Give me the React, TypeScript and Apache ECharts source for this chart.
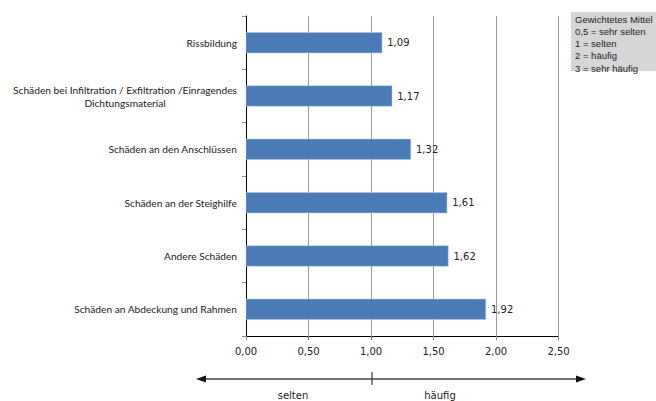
import React, { useEffect, useRef } from "react";
import * as echarts from "echarts";

const categories = [
  "Rissbildung",
  "Schäden bei Infiltration / Exfiltration /Einragendes\nDichtungsmaterial",
  "Schäden an den Anschlüssen",
  "Schäden an der Steighilfe",
  "Andere Schäden",
  "Schäden an Abdeckung und Rahmen",
];
const values = [1.09, 1.17, 1.32, 1.61, 1.62, 1.92];
const legendLines = [
  "Gewichtetes Mittel",
  "0,5 = sehr selten",
  "1 = selten",
  "2 = häufig",
  "3 = sehr häufig",
];
const scaleLabels = ["selten", "häufig"];

const fmt = (v: number) => v.toFixed(2).replace(".", ",");

export default function App() {
  const ref = useRef<HTMLDivElement>(null);
  useEffect(() => {
    if (!ref.current) return;
    const chart = echarts.init(ref.current, undefined, { renderer: "svg" });
    const lineY = 379;
    chart.setOption({
      animation: false,
      grid: { left: 246, right: 97.5, top: 16, bottom: 65, containLabel: false },
      xAxis: {
        type: "value",
        min: 0,
        max: 2.5,
        interval: 0.5,
        axisLine: { show: true, lineStyle: { color: "#000", width: 1 } },
        axisTick: { show: true, length: 4, lineStyle: { color: "#888" } },
        splitLine: { show: true, lineStyle: { color: "#9a9a9a", width: 1 } },
        axisLabel: {
          formatter: (v: number) => fmt(v),
          color: "#222",
          fontSize: 10,
          fontFamily: "DejaVu Sans",
          margin: 10,
        },
      },
      yAxis: {
        type: "category",
        data: categories,
        inverse: true,
        axisLine: { show: true, lineStyle: { color: "#000", width: 1 } },
        axisTick: { show: true, length: 4, lineStyle: { color: "#888" } },
        axisLabel: {
          color: "#222",
          fontSize: 10.2,
          fontFamily: "Lato",
          margin: 9,
          align: "right",
          lineHeight: 13,
          formatter: (v: string) =>
            v
              .split("\n")
              .map((l) => `{c|${l}}`)
              .join("\n"),
          rich: {
            c: {
              align: "center",
              color: "#222",
              fontSize: 10.2,
              fontFamily: "Lato",
              lineHeight: 13,
            },
          },
        },
      },
      series: [
        {
          type: "bar",
          data: values,
          barWidth: 21,
          itemStyle: { color: "#4a7bb7", borderColor: "#b8cbe3", borderWidth: 0.5 },
          label: {
            show: true,
            position: "right",
            distance: 5,
            formatter: (p: any) => fmt(p.value),
            color: "#222",
            fontSize: 10,
            fontFamily: "DejaVu Sans",
          },
        },
      ],
      graphic: [
        {
          type: "rect",
          shape: { x: 571, y: 12, width: 85, height: 59 },
          style: { fill: "#d6d6d6" },
        },
        ...legendLines.map((t, i) => ({
          type: "text",
          x: 575,
          y: 14 + i * 12.3,
          style: {
            text: t,
            fill: "#222",
            font: "9.5px 'Liberation Sans', Arial, sans-serif",
          },
        })),
        {
          type: "line",
          shape: { x1: 202, y1: lineY, x2: 580, y2: lineY },
          style: { stroke: "#444", lineWidth: 1.3 },
        },
        {
          type: "polygon",
          shape: { points: [[196, lineY], [206, lineY - 3.5], [206, lineY + 3.5]] },
          style: { fill: "#111" },
        },
        {
          type: "polygon",
          shape: { points: [[586, lineY], [576, lineY - 3.5], [576, lineY + 3.5]] },
          style: { fill: "#111" },
        },
        {
          type: "line",
          shape: { x1: 372, y1: lineY - 7, x2: 372, y2: lineY + 6 },
          style: { stroke: "#444", lineWidth: 1.3 },
        },
        {
          type: "text",
          x: 293,
          y: 395,
          style: {
            text: scaleLabels[0],
            fill: "#222",
            font: "10px 'DejaVu Sans', sans-serif",
            align: "center",
            verticalAlign: "middle",
          },
        },
        {
          type: "text",
          x: 440,
          y: 395,
          style: {
            text: scaleLabels[1],
            fill: "#222",
            font: "10px 'DejaVu Sans', sans-serif",
            align: "center",
            verticalAlign: "middle",
          },
        },
      ],
    });
    return () => chart.dispose();
  }, []);
  return (
    <div
      ref={ref}
      style={{ position: "fixed", left: 0, top: 0, width: 656, height: 401, background: "#fff" }}
    />
  );
}
